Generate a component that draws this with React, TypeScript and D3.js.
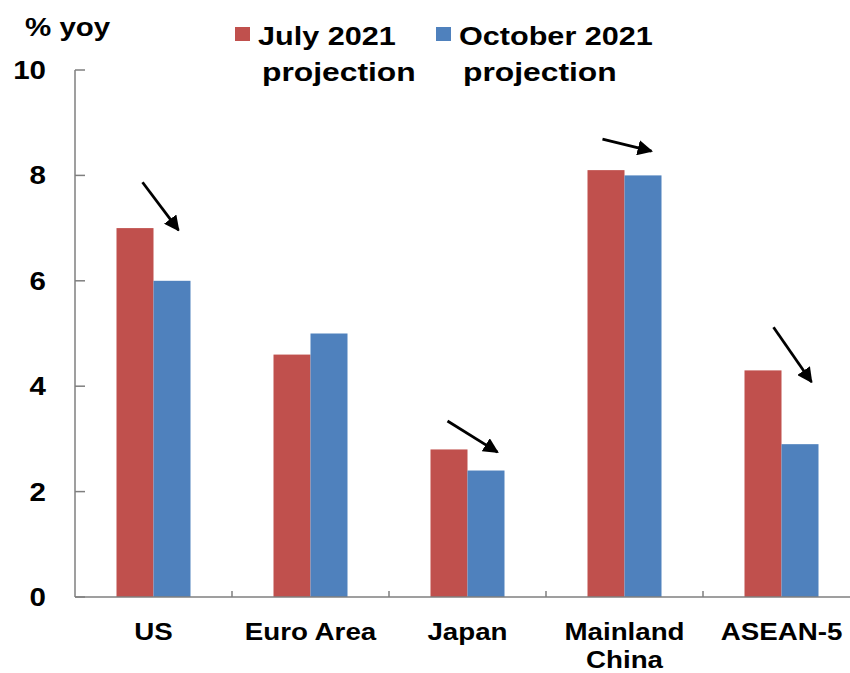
import React from "react";
import * as d3 from "d3";

const categories = ["US", "Euro Area", "Japan", "Mainland China", "ASEAN-5"];
const categoryLines = [["US"], ["Euro Area"], ["Japan"], ["Mainland", "China"], ["ASEAN-5"]];
const series = ["July 2021 projection", "October 2021 projection"];
const legendLines = [["July 2021", "projection"], ["October 2021", "projection"]];
const july2021 = [7.0, 4.6, 2.8, 8.1, 4.3];
const october2021 = [6.0, 5.0, 2.4, 8.0, 2.9];
const yTicks = [0, 2, 4, 6, 8, 10];
const arrows = [
  { cat: "US", dx0: -11, v0: 7.87, dx1: 25, v1: 6.96 },
  { cat: "Japan", dx0: -20, v0: 3.34, dx1: 30, v1: 2.75 },
  { cat: "Mainland China", dx0: -22, v0: 8.69, dx1: 27, v1: 8.46 },
  { cat: "ASEAN-5", dx0: -8, v0: 5.12, dx1: 30, v1: 4.08 },
];

const colors = ["#C0504D", "#4F81BD"];
const W = 850;
const H = 673;
const FONT = "'Liberation Sans', Arial, sans-serif";
const SX = 1.18;

function T({ x, y, anchor = "start", size = 25, sx = SX, children }: any) {
  return (
    <text
      transform={`translate(${x},${y}) scale(${sx},1)`}
      textAnchor={anchor}
      fontFamily={FONT}
      fontWeight="bold"
      fontSize={size}
      fill="#000"
    >
      {children}
    </text>
  );
}

export default function App() {
  const x0 = 75;
  const y0 = 597;
  const yTop = 70;
  const y = d3.scaleLinear().domain([0, 10]).range([y0, yTop]);
  const x = d3.scaleBand().domain(categories).range([x0, x0 + 157 * 5]).padding(0);
  const bw = x.bandwidth();
  const xi = d3.scaleBand().domain(series).range([bw / 2 - 37, bw / 2 + 37]).padding(0);
  const values = [july2021, october2021];

  return (
    <svg width={W} height={H} style={{ position: "absolute", left: 0, top: 0, background: "#fff" }}>
      <defs>
        <marker id="ah" viewBox="0 0 10 10" refX="9" refY="5" markerWidth="5.5" markerHeight="5.5" orient="auto" markerUnits="strokeWidth">
          <path d="M0,0 L10,5 L0,10 Z" fill="#000" />
        </marker>
      </defs>
      {/* bars */}
      {series.map((s, si) =>
        categories.map((c, ci) => (
          <rect
            key={s + c}
            x={(x(c) as number) + (xi(s) as number)}
            y={y(values[si][ci])}
            width={xi.bandwidth()}
            height={y0 - y(values[si][ci])}
            fill={colors[si]}
          />
        ))
      )}
      {/* y axis */}
      <line x1={x0} x2={x0} y1={yTop} y2={y0} stroke="#7f7f7f" strokeWidth={1.5} />
      {yTicks.map((t) => (
        <g key={t}>
          <line x1={x0} x2={x0 + 10} y1={y(t)} y2={y(t)} stroke="#7f7f7f" strokeWidth={1.5} />
          <T x={46} y={y(t) + 9} anchor="end">{t}</T>
        </g>
      ))}
      {/* x axis */}
      <line x1={x0} x2={W} y1={y0} y2={y0} stroke="#7f7f7f" strokeWidth={1.5} />
      {categories.slice(1).map((c) => (
        <line key={c} x1={x(c) as number} x2={x(c) as number} y1={y0} y2={y0 - 6} stroke="#7f7f7f" strokeWidth={1.5} />
      ))}
      {categories.map((c, ci) =>
        categoryLines[ci].map((ln, li) => (
          <T key={c + li} x={(x(c) as number) + bw / 2} y={640 + li * 28} anchor="middle" size={23.5}>
            {ln}
          </T>
        ))
      )}
      {/* y title */}
      <T x={25} y={36}>% yoy</T>
      {/* legend */}
      {series.map((s, si) => {
        const lx = [235, 436][si];
        return (
          <g key={s}>
            <rect x={lx} y={27} width={15} height={14} fill={colors[si]} />
            <T x={lx + 23} y={45} size={25.5} sx={1.2}>{legendLines[si][0]}</T>
            <T x={lx + 27} y={81} size={26.5} sx={1.2}>{legendLines[si][1]}</T>
          </g>
        );
      })}
      {/* arrows */}
      {arrows.map((a, i) => {
        const cx = (x(a.cat) as number) + bw / 2;
        return (
          <line
            key={i}
            x1={cx + a.dx0}
            y1={y(a.v0)}
            x2={cx + a.dx1}
            y2={y(a.v1)}
            stroke="#000"
            strokeWidth={2.8}
            markerEnd="url(#ah)"
          />
        );
      })}
    </svg>
  );
}
